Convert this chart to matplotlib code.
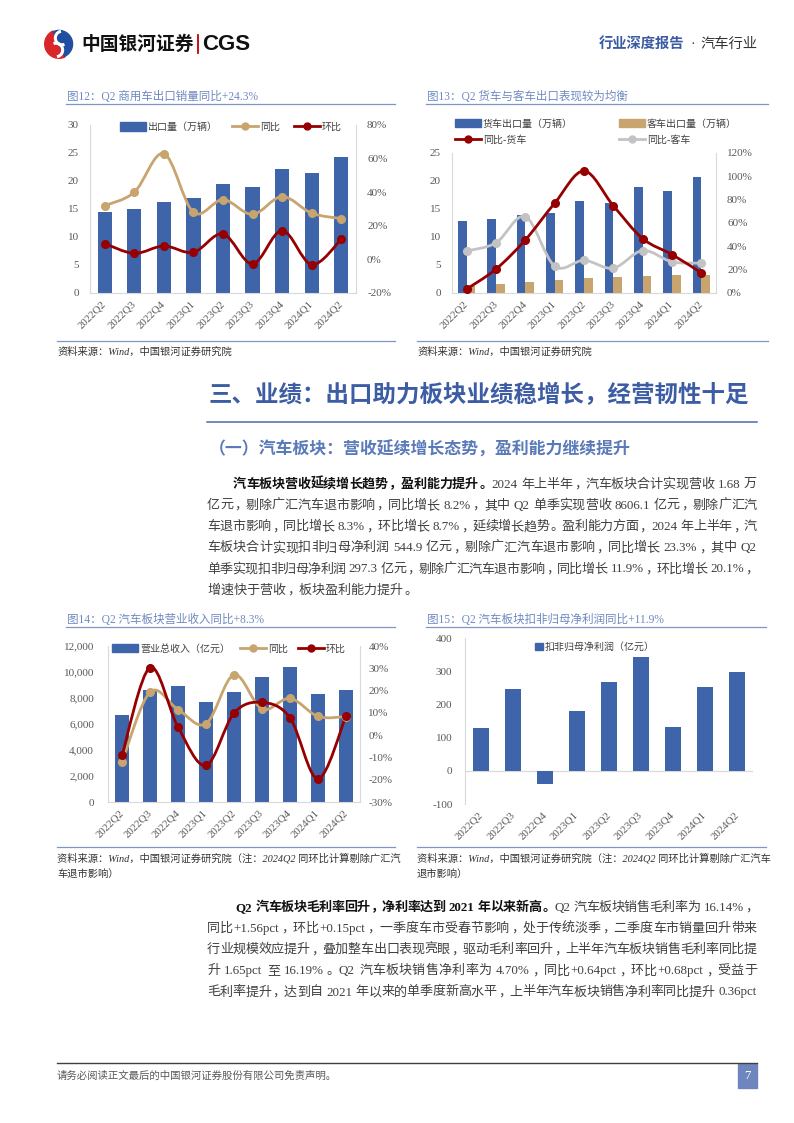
import re
import numpy as np
import matplotlib
matplotlib.use('Agg')
import matplotlib.pyplot as plt
from matplotlib.path import Path
from matplotlib.patches import PathPatch, Rectangle, Wedge, Arc
from matplotlib.lines import Line2D
from matplotlib.ticker import FuncFormatter, MultipleLocator

plt.rcParams['font.family'] = ['Liberation Serif', 'Noto Sans CJK SC', 'DejaVu Sans']
plt.rcParams['axes.unicode_minus'] = False

W, H = 794, 1123

quarters = ['2022Q2', '2022Q3', '2022Q4', '2023Q1', '2023Q2',
            '2023Q3', '2023Q4', '2024Q1', '2024Q2']

# fig12: commercial vehicle exports (10k units) and growth (%)
cv_export = [14.4, 15.0, 16.2, 16.9, 19.5, 19.0, 22.2, 21.5, 24.2]
cv_yoy = [32.0, 40.0, 63.0, 28.0, 35.6, 26.8, 37.4, 27.5, 24.3]
cv_qoq = [9.4, 3.6, 8.0, 4.2, 15.2, -2.7, 17.2, -3.1, 12.0]

# fig13: trucks vs buses
truck_export = [12.9, 13.2, 13.9, 14.3, 16.5, 16.0, 19.0, 18.2, 20.7]
bus_export = [1.3, 1.6, 2.0, 2.4, 2.7, 2.8, 3.0, 3.2, 3.3]
truck_yoy = [3.4, 20.5, 45.5, 77.0, 104.6, 74.8, 46.6, 33.0, 17.3]
bus_yoy = [36.0, 43.0, 65.4, 23.0, 28.0, 21.3, 36.4, 26.7, 25.6]

# fig14: sector revenue (100m yuan)
revenue = [6655, 8608, 8942, 7709, 8428, 9636, 10355, 8325, 8606]
rev_yoy = [-12.1, 19.3, 11.5, 5.1, 27.1, 11.7, 16.5, 8.4, 8.3]
rev_qoq = [-9.1, 30.3, 3.6, -13.6, 9.9, 14.7, 7.8, -19.6, 8.7]

# fig15: net profit excl. non-recurring (100m yuan)
profit = [128, 245, -41, 180, 268, 343, 131, 252, 297.3]

BLUE = '#3e64aa'
TAN = '#c8a46e'
RED = '#960000'
GRAY = '#c3c3c3'
GRID = '#d9d9d9'
TICK = '#595959'
TITLE = '#6f89c0'
RULE = '#7d95c8'
BODY = '#404040'

fig = plt.figure(figsize=(W / 100, H / 100), dpi=100)
renderer = fig.canvas.get_renderer()


def fx(x):
    return x / W


def fy(y):
    return 1 - y / H


def add_ax(l, t, r, b):
    return fig.add_axes([l / W, 1 - b / H, (r - l) / W, (b - t) / H])


def hline(y, x0, x1, color, lw):
    fig.add_artist(Line2D([fx(x0), fx(x1)], [fy(y), fy(y)], color=color, lw=lw))


def smooth(ax, y, color):
    # excel-style smoothed line through the data points
    x = np.arange(len(y), dtype=float)
    y = np.asarray(y, float)
    n = len(x)
    verts = [(x[0], y[0])]
    codes = [Path.MOVETO]
    for i in range(n - 1):
        xa, ya = (x[i - 1], y[i - 1]) if i > 0 else (x[i], y[i])
        xb, yb = (x[i + 2], y[i + 2]) if i + 2 < n else (x[i + 1], y[i + 1])
        verts.append((x[i] + (x[i + 1] - xa) / 6, y[i] + (y[i + 1] - ya) / 6))
        verts.append((x[i + 1] - (xb - x[i]) / 6, y[i + 1] - (yb - y[i]) / 6))
        verts.append((x[i + 1], y[i + 1]))
        codes += [Path.CURVE4] * 3
    ax.add_patch(PathPatch(Path(verts, codes), fill=False, edgecolor=color,
                           lw=2.0, capstyle='round', joinstyle='round', zorder=3))
    ax.plot(x, y, 'o', color=color, ms=5.5, zorder=4)


def base_style(ax, left_pad):
    for s in ['top', 'right']:
        ax.spines[s].set_visible(False)
    ax.spines['left'].set_color(GRID)
    ax.spines['bottom'].set_color(GRID)
    ax.tick_params(length=0, labelsize=8, labelcolor=TICK)
    ax.tick_params(axis='y', pad=left_pad)
    ax.set_xlim(-0.5, len(quarters) - 0.5)
    ax.set_xticks(range(len(quarters)))
    ax.set_xticklabels(quarters, rotation=45, ha='right', va='center',
                       rotation_mode='anchor', fontsize=7.8)
    ax.tick_params(axis='x', pad=7)


def twin_style(ax2, pad):
    ax2.patch.set_visible(False)
    for s in ['top', 'left', 'bottom']:
        ax2.spines[s].set_visible(False)
    ax2.spines['right'].set_color(GRID)
    ax2.tick_params(length=0, labelsize=8, labelcolor=TICK, pad=pad)
    ax2.yaxis.set_major_formatter(FuncFormatter(lambda v, _: f'{v:.0f}%'))


def legend_texts(leg):
    for t in leg.get_texts():
        t.set_color(BODY)


def line_handle(color):
    return Line2D([], [], color=color, lw=2.0, marker='o', ms=5)


def chart_frame(x0, x1, title, ty, src_lines, sy):
    fig.text(fx(x0 + 10), fy(ty), title, fontsize=8.3, color=TITLE, va='center')
    hline(ty + 7, x0 + 9, x1, RULE, 0.9)
    hline(sy - 11, x0, x1, RULE, 0.9)
    for k, s in enumerate(src_lines):
        fig.text(fx(x0), fy(sy + 16 * k), s, fontsize=7.4, color='#333333',
                 style='italic', va='center')


# ---------------- header ----------------
lax = add_ax(44, 29, 74, 59)
lax.set_xlim(-1.05, 1.05)
lax.set_ylim(-1.05, 1.05)
lax.set_aspect('equal')
lax.axis('off')
lax.add_patch(Wedge((0, 0), 1, 115, 295, color='#d8262b'))
lax.add_patch(Wedge((0, 0), 0.95, -65, 115, color='#1f4f9e'))
lax.add_patch(Arc((0.22, 0.42), 0.95, 0.95, theta1=100, theta2=290, color='white', lw=2.2))
lax.add_patch(Arc((-0.22, -0.42), 0.95, 0.95, theta1=280, theta2=110, color='white', lw=2.2))

fig.text(fx(81), fy(44), '中国银河证券', fontsize=13.5, fontweight='bold',
         family='Noto Sans CJK SC', color='#111111', va='center')
fig.add_artist(Line2D([fx(198), fx(198)], [fy(35), fy(53)], color='#c00000', lw=1.3))
fig.text(fx(202), fy(44), 'CGS', fontsize=16, fontweight='bold',
         family='Liberation Sans', color='#111111', va='center')
fig.text(fx(757), fy(44), '汽车行业', fontsize=10.3, color='#333333',
         family='Noto Sans CJK SC', ha='right', va='center')
fig.text(fx(693), fy(44), '·', fontsize=10.3, color='#333333', ha='center', va='center')
fig.text(fx(684), fy(44), '行业深度报告', fontsize=10.3, color='#3b5ca3',
         family='Noto Sans CJK SC', fontweight='bold', ha='right', va='center')

# ---------------- fig12 ----------------
chart_frame(57, 395, '图12：Q2 商用车出口销量同比+24.3%', 97,
            ['资料来源：Wind，中国银河证券研究院'], 352)
ax = add_ax(90, 125, 356, 293)
x = np.arange(len(quarters))
ax.bar(x, cv_export, width=0.48, color=BLUE, zorder=2)
ax.set_ylim(0, 30)
ax.yaxis.set_major_locator(MultipleLocator(5))
base_style(ax, 8)
ax2 = ax.twinx()
twin_style(ax2, 8)
ax2.set_ylim(-20, 80)
ax2.yaxis.set_major_locator(MultipleLocator(20))
smooth(ax2, cv_yoy, TAN)
smooth(ax2, cv_qoq, RED)
leg = ax2.legend([Rectangle((0, 0), 1, 1, color=BLUE), line_handle(TAN), line_handle(RED)],
                 ['出口量（万辆）', '同比', '环比'], ncol=3, loc='upper center',
                 bbox_to_anchor=(0.53, 1.04), frameon=False, fontsize=7.2,
                 handlelength=2.6, handleheight=0.9, handletextpad=0.2,
                 columnspacing=1.4, borderaxespad=0)
legend_texts(leg)

# ---------------- fig13 ----------------
chart_frame(417, 768, '图13：Q2 货车与客车出口表现较为均衡', 97,
            ['资料来源：Wind，中国银河证券研究院'], 352)
ax = add_ax(452, 153, 716, 293)
ax.bar(x - 0.145, truck_export, width=0.29, color=BLUE, zorder=2)
ax.bar(x + 0.145, bus_export, width=0.29, color=TAN, zorder=2)
ax.set_ylim(0, 25)
ax.yaxis.set_major_locator(MultipleLocator(5))
base_style(ax, 8)
ax2 = ax.twinx()
twin_style(ax2, 8)
ax2.set_ylim(0, 120)
ax2.yaxis.set_major_locator(MultipleLocator(20))
smooth(ax2, bus_yoy, GRAY)
smooth(ax2, truck_yoy, RED)
leg = fig.legend([Rectangle((0, 0), 1, 1, color=BLUE), line_handle(RED),
                  Rectangle((0, 0), 1, 1, color=TAN), line_handle(GRAY)],
                 ['货车出口量（万辆）', '同比-货车', '客车出口量（万辆）', '同比-客车'],
                 ncol=2, loc='upper left', bbox_to_anchor=(fx(455), fy(119)),
                 bbox_transform=fig.transFigure, frameon=False, fontsize=7.2,
                 handlelength=2.6, handleheight=0.9, handletextpad=0.2,
                 columnspacing=4.6, labelspacing=0.68, borderpad=0, borderaxespad=0)
legend_texts(leg)

# ---------------- heading + paragraph 1 ----------------
fig.text(fx(208), fy(395), '三、业绩：出口助力板块业绩稳增长，经营韧性十足', fontsize=16.9,
         fontweight='bold', family='Noto Sans CJK SC', color='#3c5da4', va='center')
hline(422, 207, 757, '#4a6cb0', 1.1)
fig.text(fx(209), fy(450), '（一）汽车板块：营收延续增长态势，盈利能力继续提升', fontsize=12.2,
         fontweight='bold', family='Noto Sans CJK SC', color='#5a7ab8', va='center')

PUNCT_LEFT = '，。：、；'


def is_cjk(c):
    return len(c) == 1 and ord(c) > 0x2e7f


def draw_line(yc, x0, x1, parts, justify, size=9.4):
    em = size * 100 / 72
    base = yc + 0.36 * em
    items = []
    for s, bold in parts:
        for tk in re.findall(r'[A-Za-z0-9.%+\-]+| |.', s):
            items.append((tk, bold))
    arts, widths, offs = [], [], []
    for tk, bold in items:
        kw = dict(fontsize=size, fontweight='bold' if bold else 'normal',
                  color='#111111' if bold else BODY, va='baseline')
        if tk == ' ':
            arts.append(None)
            widths.append(0.25 * em)
            offs.append(0)
        elif is_cjk(tk):
            if tk in PUNCT_LEFT:
                a, off = fig.text(0, 0, tk, ha='left', **kw), 0.12 * em
            elif tk == '（':
                a, off = fig.text(0, 0, tk, ha='right', **kw), 0.92 * em
            elif tk == '）':
                a, off = fig.text(0, 0, tk, ha='left', **kw), 0.08 * em
            else:
                a, off = fig.text(0, 0, tk, ha='center', **kw), 0.5 * em
            arts.append(a)
            widths.append(em)
            offs.append(off)
        else:
            a = fig.text(0, 0, tk, ha='left', **kw)
            w = a.get_window_extent(renderer).width
            arts.append(a)
            widths.append(w + 0.1 * em)
            offs.append(0.05 * em)
    gap = 0.0
    if justify and len(items) > 1:
        gap = (x1 - x0 - sum(widths)) / (len(items) - 1)
    xp = x0
    for a, w, off in zip(arts, widths, offs):
        if a is not None:
            a.set_position((fx(xp + off), fy(base)))
        xp += w + gap


para1 = [
    [('汽车板块营收延续增长趋势，盈利能力提升。', True),
     ('2024 年上半年，汽车板块合计实现营收 1.68 万', False)],
    [('亿元，剔除广汇汽车退市影响，同比增长 8.2%，其中 Q2 单季实现营收 8606.1 亿元，剔除广汇汽', False)],
    [('车退市影响，同比增长 8.3%，环比增长 8.7%，延续增长趋势。盈利能力方面，2024 年上半年，汽', False)],
    [('车板块合计实现扣非归母净利润 544.9 亿元，剔除广汇汽车退市影响，同比增长 23.3%，其中 Q2', False)],
    [('单季实现扣非归母净利润 297.3 亿元，剔除广汇汽车退市影响，同比增长 11.9%，环比增长 20.1%，', False)],
    [('增速快于营收，板块盈利能力提升。', False)],
]
para2 = [
    [('Q2 汽车板块毛利率回升，净利率达到 2021 年以来新高。', True),
     ('Q2 汽车板块销售毛利率为 16.14%，', False)],
    [('同比+1.56pct，环比+0.15pct，一季度车市受春节影响，处于传统淡季，二季度车市销量回升带来', False)],
    [('行业规模效应提升，叠加整车出口表现亮眼，驱动毛利率回升，上半年汽车板块销售毛利率同比提', False)],
    [('升 1.65pct 至 16.19%。Q2 汽车板块销售净利率为 4.70%，同比+0.64pct，环比+0.68pct，受益于', False)],
    [('毛利率提升，达到自 2021 年以来的单季度新高水平，上半年汽车板块销售净利率同比提升 0.36pct', False)],
]

for i, parts in enumerate(para1):
    draw_line(483 + 21.2 * i, 233 if i == 0 else 207, 757, parts, justify=i < len(para1) - 1)

# ---------------- fig14 ----------------
chart_frame(57, 395, '图14：Q2 汽车板块营业收入同比+8.3%', 620,
            ['资料来源：Wind，中国银河证券研究院（注：2024Q2 同环比计算剔除广汇汽',
             '车退市影响）'], 858)
ax = add_ax(108, 646, 360, 802)
ax.bar(x, revenue, width=0.51, color=BLUE, zorder=2)
ax.set_ylim(0, 12000)
ax.yaxis.set_major_locator(MultipleLocator(2000))
ax.yaxis.set_major_formatter(FuncFormatter(lambda v, _: f'{v:,.0f}'))
base_style(ax, 10)
ax2 = ax.twinx()
twin_style(ax2, 6)
ax2.set_ylim(-30, 40)
ax2.yaxis.set_major_locator(MultipleLocator(10))
smooth(ax2, rev_yoy, TAN)
smooth(ax2, rev_qoq, RED)
leg = ax2.legend([Rectangle((0, 0), 1, 1, color=BLUE), line_handle(TAN), line_handle(RED)],
                 ['营业总收入（亿元）', '同比', '环比'], ncol=3, loc='upper center',
                 bbox_to_anchor=(0.48, 1.04), frameon=False, fontsize=7.2,
                 handlelength=2.6, handleheight=0.9, handletextpad=0.2,
                 columnspacing=1.0, borderaxespad=0)
legend_texts(leg)

# ---------------- fig15 ----------------
chart_frame(417, 766, '图15：Q2 汽车板块扣非归母净利润同比+11.9%', 620,
            ['资料来源：Wind，中国银河证券研究院（注：2024Q2 同环比计算剔除广汇汽车',
             '退市影响）'], 858)
ax = add_ax(465, 638, 753, 804)
ax.bar(x, profit, width=0.49, color=BLUE, zorder=2)
ax.set_ylim(-100, 400)
ax.yaxis.set_major_locator(MultipleLocator(100))
base_style(ax, 9)
ax.spines['bottom'].set_visible(False)
ax.axhline(0, color=GRID, lw=0.9, zorder=1)
leg = ax.legend([Rectangle((0, 0), 1, 1, color=BLUE)], ['扣非归母净利润（亿元）'],
                loc='upper center', bbox_to_anchor=(0.45, 1.0), frameon=False,
                fontsize=7.2, handlelength=0.8, handleheight=0.8, handletextpad=0.2,
                borderaxespad=0)
legend_texts(leg)

# ---------------- paragraph 2 ----------------
for i, parts in enumerate(para2):
    draw_line(906 + 21.2 * i, 235 if i == 0 else 207, 757, parts, justify=True)

# ---------------- footer ----------------
hline(1063, 57, 757, '#404040', 1.0)
fig.text(fx(57), fy(1076), '请务必阅读正文最后的中国银河证券股份有限公司免责声明。', fontsize=7.5,
         family='Noto Sans CJK SC', color='#595959', va='center')
fig.add_artist(Rectangle((fx(738), fy(1088)), (757 - 738) / W, 24 / H,
                         color='#6e86bd', transform=fig.transFigure))
fig.text(fx(747.5), fy(1076), '7', fontsize=9, color='white', ha='center', va='center')

fig.savefig('out.png', dpi=100)
